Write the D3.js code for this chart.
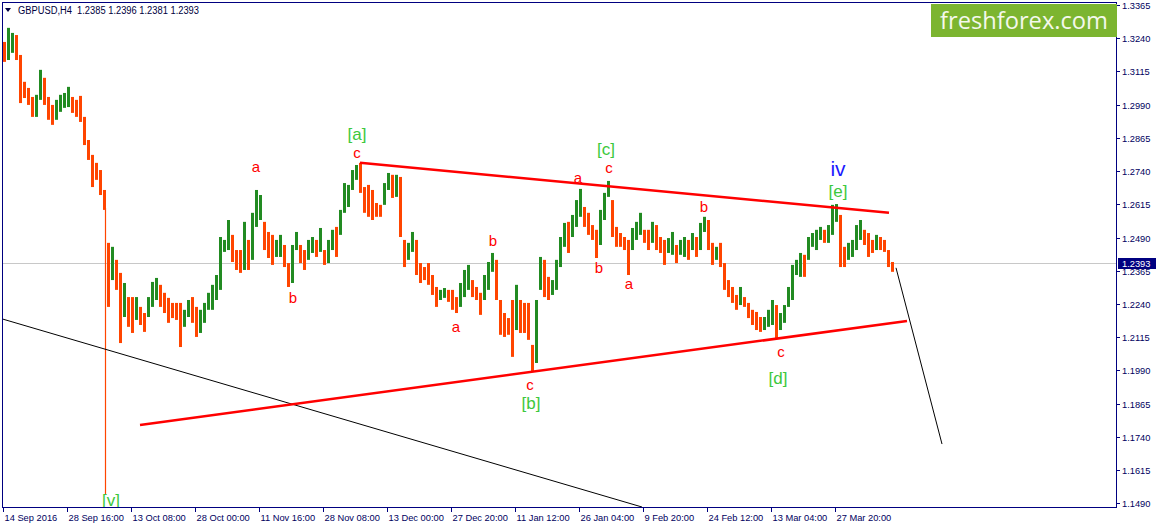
<!DOCTYPE html>
<html><head><meta charset="utf-8">
<script src="https://cdnjs.cloudflare.com/ajax/libs/d3/7.8.5/d3.min.js"></script>
<style>html,body{margin:0;padding:0;background:#fff;}svg{display:block;}</style>
</head><body>
<svg id="chart" width="1157" height="527"></svg>
<script>
// ---------------- data ----------------
const symbol = "GBPUSD,H4";
const lastQuote = [1.2385, 1.2396, 1.2381, 1.2393]; // O H L C of the last bar
const barsPerBin = 4; // each drawn bar groups 4 H4 bars
const highs = [
1.3226,1.3279,1.3260,1.3252,1.3177,1.3076,1.3053,1.3019,1.3027,1.3121,
1.3091,1.3019,1.2989,1.3008,1.3027,1.3034,1.3057,1.3019,1.3008,1.3023,
1.2944,1.2857,1.2801,1.2771,1.2744,1.2669,1.2470,1.2455,1.2406,1.2357,
1.2319,1.2266,1.2266,1.2266,1.2229,1.2206,1.2266,1.2323,1.2338,1.2312,
1.2282,1.2263,1.2244,1.2244,1.2244,1.2218,1.2255,1.2266,1.2229,1.2218,
1.2244,1.2282,1.2312,1.2349,1.2492,1.2481,1.2556,1.2500,1.2443,1.2443,
1.2549,1.2481,1.2583,1.2669,1.2650,1.2549,1.2511,1.2500,1.2481,1.2500,
1.2462,1.2394,1.2462,1.2511,1.2462,1.2443,1.2481,1.2492,1.2481,1.2526,
1.2443,1.2481,1.2519,1.2530,1.2594,1.2695,1.2688,1.2744,1.2763,1.2771,
1.2680,1.2688,1.2669,1.2620,1.2613,1.2695,1.2733,1.2726,1.2726,1.2718,
1.2481,1.2470,1.2511,1.2481,1.2394,1.2379,1.2394,1.2349,1.2304,1.2293,
1.2300,1.2293,1.2293,1.2266,1.2319,1.2368,1.2387,1.2330,1.2304,1.2282,
1.2349,1.2398,1.2432,1.2406,1.2255,1.2206,1.2187,1.2255,1.2312,1.2255,
1.2244,1.2244,1.2086,1.2255,1.2417,1.2406,1.2342,1.2330,1.2406,1.2492,
1.2545,1.2549,1.2575,1.2631,1.2673,1.2605,1.2583,1.2537,1.2519,1.2594,
1.2658,1.2703,1.2631,1.2530,1.2507,1.2492,1.2481,1.2526,1.2549,1.2583,
1.2519,1.2519,1.2549,1.2537,1.2492,1.2481,1.2488,1.2511,1.2462,1.2481,
1.2492,1.2481,1.2507,1.2492,1.2545,1.2568,1.2556,1.2470,1.2455,1.2470,
1.2394,1.2330,1.2304,1.2274,1.2304,1.2266,1.2244,1.2218,1.2210,1.2191,
1.2191,1.2218,1.2255,1.2236,1.2206,1.2236,1.2304,1.2387,1.2406,1.2432,
1.2425,1.2492,1.2507,1.2519,1.2530,1.2519,1.2537,1.2613,1.2616,1.2575,
1.2455,1.2470,1.2481,1.2537,1.2556,1.2519,1.2507,1.2481,1.2500,1.2492,
1.2481,1.2443,1.2398
];
const lows = [
1.3151,1.3158,1.3185,1.3158,1.2996,1.3015,1.2989,1.2944,1.2944,1.3008,
1.2989,1.2933,1.2914,1.2933,1.2963,1.2978,1.2981,1.2959,1.2944,1.2925,
1.2838,1.2782,1.2680,1.2707,1.2650,1.2594,1.2229,1.2330,1.2293,1.2093,
1.2191,1.2154,1.2131,1.2180,1.2161,1.2135,1.2191,1.2229,1.2255,1.2229,
1.2206,1.2169,1.2187,1.2180,1.2078,1.2154,1.2191,1.2169,1.2116,1.2131,
1.2169,1.2218,1.2218,1.2255,1.2293,1.2436,1.2443,1.2398,1.2368,1.2357,
1.2368,1.2368,1.2406,1.2530,1.2556,1.2443,1.2413,1.2387,1.2417,1.2417,
1.2379,1.2304,1.2319,1.2443,1.2394,1.2368,1.2406,1.2432,1.2417,1.2436,
1.2387,1.2394,1.2443,1.2417,1.2500,1.2583,1.2605,1.2669,1.2707,1.2658,
1.2583,1.2568,1.2556,1.2568,1.2568,1.2613,1.2669,1.2639,1.2643,1.2492,
1.2379,1.2406,1.2436,1.2349,1.2319,1.2330,1.2312,1.2274,1.2229,1.2255,
1.2263,1.2248,1.2218,1.2206,1.2229,1.2266,1.2293,1.2266,1.2255,1.2199,
1.2255,1.2293,1.2361,1.2255,1.2124,1.2116,1.2124,1.2041,1.2142,1.2131,
1.2131,1.2105,1.1984,1.2018,1.2293,1.2266,1.2255,1.2274,1.2293,1.2379,
1.2455,1.2432,1.2492,1.2530,1.2568,1.2530,1.2500,1.2481,1.2413,1.2462,
1.2556,1.2643,1.2492,1.2455,1.2455,1.2443,1.2349,1.2443,1.2481,1.2500,
1.2470,1.2443,1.2470,1.2443,1.2432,1.2387,1.2432,1.2425,1.2394,1.2425,
1.2417,1.2406,1.2443,1.2417,1.2443,1.2511,1.2443,1.2387,1.2406,1.2379,
1.2293,1.2266,1.2244,1.2218,1.2236,1.2229,1.2187,1.2161,1.2142,1.2135,
1.2142,1.2154,1.2161,1.2108,1.2142,1.2169,1.2229,1.2255,1.2349,1.2342,
1.2342,1.2406,1.2455,1.2443,1.2481,1.2470,1.2470,1.2500,1.2549,1.2379,
1.2379,1.2406,1.2417,1.2443,1.2481,1.2462,1.2417,1.2432,1.2443,1.2443,
1.2436,1.2379,1.2361
];
// the single 7 Oct 2016 flash-crash H4 bar: [barIndex, high, low]
const flashCrashBar = [102, 1.2601, 1.1521];
const timeLabels = ["14 Sep 2016","28 Sep 16:00","13 Oct 08:00","28 Oct 00:00","11 Nov 16:00",
  "28 Nov 08:00","13 Dec 00:00","27 Dec 20:00","11 Jan 12:00","26 Jan 04:00","9 Feb 20:00",
  "24 Feb 12:00","13 Mar 04:00","27 Mar 20:00"];
const timeLabelBars = [0,64,128,192,256,320,384,448,512,576,640,704,768,832];
const priceTicks = [1.3365,1.3240,1.3115,1.2990,1.2865,1.2740,1.2615,1.2490,1.2365,
  1.2240,1.2115,1.1990,1.1865,1.1740,1.1615,1.1490];
// trend lines: [barIndex, price]
const upperTrend = [[357,1.2771],[886,1.2583]];
const lowerTrend = [[137,1.1785],[904,1.2176]];
const longLine = [[-1,1.2184],[639,1.1476]];
const forecastLine = [[893,1.2376],[939,1.1713]];
// wave labels: text, barIndex, price (baseline), kind
const waveLabels = [
  ["[a]",354,1.2858,"g"],["c",354,1.2790,"r"],["a",253,1.2737,"r"],["b",290,1.2244,"r"],
  ["a",453,1.2135,"r"],["b",490,1.2458,"r"],["c",527,1.1917,"r"],["[b]",528,1.1845,"g"],
  ["a",575,1.2695,"r"],["[c]",603,1.2801,"g"],["c",606,1.2733,"r"],["b",596,1.2357,"r"],
  ["a",626,1.2297,"r"],["b",701,1.2586,"r"],["c",778,1.2041,"r"],["[d]",775,1.1939,"g"],
  ["iv",835,1.2722,"b"],["[e]",835,1.2643,"g"],["[v]",108,1.1480,"g"]
];

// ---------------- drawing ----------------
const plot = {l:2, t:2, r:1116, b:507};
const svg = d3.select("#chart");
const font = "'Liberation Sans', Arial, sans-serif";
const x = d3.scaleLinear().domain([0, 1113]).range([3, 1116]);
const y = d3.scaleLinear().domain([1.1490, 1.3365]).range([503.3, 5]);

svg.append("defs").append("clipPath").attr("id","clip")
  .append("rect").attr("x",plot.l).attr("y",plot.t).attr("width",plot.r-plot.l).attr("height",plot.b-plot.t);
const g = svg.append("g").attr("clip-path","url(#clip)");

// current price line
const cyLine = Math.round(y(lastQuote[3]))+0.5;
g.append("line").attr("x1",plot.l).attr("x2",plot.r).attr("y1",cyLine).attr("y2",cyLine)
  .attr("stroke","#c8c8c8").attr("stroke-width",1);

// bars
const bins = highs.map((h,i)=>({i, h, l: lows[i], mid:(h+lows[i])/2}));
g.selectAll("rect.bar").data(bins).enter().append("rect")
  .attr("class","bar")
  .attr("x", d => x(d.i*barsPerBin + 1.5) - 1.5)
  .attr("width", 3)
  .attr("y", d => y(d.h))
  .attr("height", d => Math.max(1, y(d.l) - y(d.h)))
  .attr("fill", d => (d.i>0 && d.mid >= bins[d.i-1].mid) ? "#228b22" : "#ff4500");
// flash crash bar (single thin bar)
g.append("line")
  .attr("x1", Math.round(x(flashCrashBar[0]))+0.5).attr("x2", Math.round(x(flashCrashBar[0]))+0.5)
  .attr("y1", y(flashCrashBar[1])).attr("y2", y(flashCrashBar[2]))
  .attr("stroke","#ff4500").attr("stroke-width",1.2);

// lines
const line = d3.line().x(d=>x(d[0])).y(d=>y(d[1]));
g.append("path").attr("d",line(longLine)).attr("stroke","#000").attr("stroke-width",1).attr("fill","none");
g.append("path").attr("d",line(upperTrend)).attr("stroke","#ff0000").attr("stroke-width",2.5).attr("fill","none");
g.append("path").attr("d",line(lowerTrend)).attr("stroke","#ff0000").attr("stroke-width",2.5).attr("fill","none");
g.append("path").attr("d",line(forecastLine)).attr("stroke","#000").attr("stroke-width",1).attr("fill","none");

// wave labels
const styles = {r:{c:"#ff0000",s:15}, g:{c:"#3cc83c",s:17}, b:{c:"#1a1aff",s:21}};
g.selectAll("text.wave").data(waveLabels).enter().append("text")
  .attr("class","wave")
  .attr("x", d=>x(d[1])).attr("y", d=>y(d[2]))
  .attr("text-anchor","middle")
  .attr("font-family",font).attr("font-size",d=>styles[d[3]].s)
  .attr("fill",d=>styles[d[3]].c)
  .text(d=>d[0]);

// frame
svg.append("rect").attr("x",plot.l+0.5).attr("y",plot.t+0.5)
  .attr("width",plot.r-plot.l).attr("height",plot.b-plot.t)
  .attr("fill","none").attr("stroke","#000080").attr("stroke-width",1);

// x axis ticks & labels
const xa = svg.append("g");
timeLabelBars.forEach((b,i)=>{
  const px = Math.round(x(b))+0.5;
  xa.append("line").attr("x1",px).attr("x2",px).attr("y1",plot.b).attr("y2",plot.b+5)
    .attr("stroke","#000080");
  xa.append("text").attr("x",px+1).attr("y",521).attr("font-family",font).attr("font-size",9.3)
    .attr("fill","#000060").text(timeLabels[i]);
});

// y axis ticks & labels
const ya = svg.append("g");
priceTicks.forEach(p=>{
  const py = Math.round(y(p))+0.5;
  ya.append("line").attr("x1",plot.r).attr("x2",plot.r+4).attr("y1",py).attr("y2",py).attr("stroke","#000080");
  ya.append("text").attr("x",plot.r+6).attr("y",py+3.3).attr("font-family",font).attr("font-size",9.3)
    .attr("fill","#000060").text(p.toFixed(4));
});
// current price box
const cy = y(lastQuote[3]);
svg.append("rect").attr("x",plot.r+2).attr("y",Math.round(cy)-5).attr("width",38).attr("height",11).attr("fill","#000080");
svg.append("text").attr("x",plot.r+6).attr("y",Math.round(cy)+4).attr("font-family",font).attr("font-size",9.3)
  .attr("fill","#fff").text(lastQuote[3].toFixed(4));

// header
svg.append("path").attr("d","M5,8 L11,8 L8,12 Z").attr("fill","#000040");
svg.append("text").attr("x",18).attr("y",14).attr("font-family",font).attr("font-size",10)
  .attr("fill","#000040").attr("xml:space","preserve")
  .attr("textLength",181).attr("lengthAdjust","spacingAndGlyphs")
  .text(symbol + "  " + lastQuote.map(v=>v.toFixed(4)).join(" "));

// logo
svg.append("rect").attr("x",931).attr("y",4).attr("width",186).attr("height",33).attr("fill","#7cb530");
svg.append("text").attr("x",940).attr("y",29).attr("font-family","'Open Sans', 'Noto Sans', sans-serif")
  .attr("font-size",24).attr("fill","#f4f8ec").attr("textLength",168).attr("lengthAdjust","spacingAndGlyphs")
  .text("freshforex.com");
</script>
</body></html>
